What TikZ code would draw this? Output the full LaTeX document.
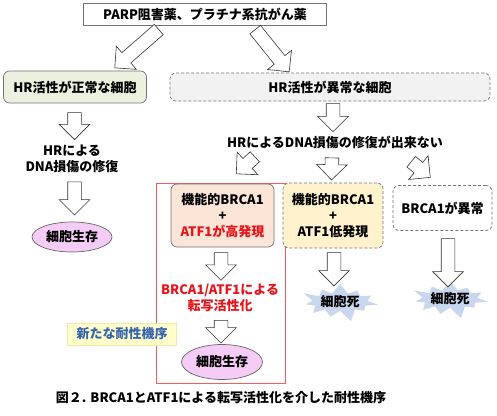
\documentclass[tikz,border=0pt]{standalone}
\usepackage{fontspec}
\setmainfont{Noto Sans CJK JP}
\usetikzlibrary{shapes.arrows,shapes.geometric,shapes.symbols,calc}
\definecolor{cellgreen}{HTML}{EBF1DE}
\definecolor{cellgray}{HTML}{F2F2F2}
\definecolor{cellpeach}{HTML}{FBE5D6}
\definecolor{cellyellow}{HTML}{FFF2CC}
\definecolor{survpink}{HTML}{F4CCF6}
\definecolor{deathblue}{HTML}{C9D7EE}
\definecolor{textred}{HTML}{E8141B}
\definecolor{noteblue}{HTML}{3563AE}
\definecolor{notefill}{HTML}{FFFFCC}
\definecolor{noteline}{HTML}{F5E7A8}
\tikzset{every node/.style={font=\bfseries\fontsize{13}{16}\selectfont, align=center, inner sep=0pt},
  cellbox/.style={draw=black!55, rounded corners=6pt, line width=0.7pt},
  dashbox/.style={cellbox, densely dashed},
  survival/.style={ellipse, draw=black!60, fill=survpink, line width=0.7pt},
  death/.style={starburst, fill=deathblue, starburst points=11, starburst point height=13pt, minimum width=78pt, minimum height=42pt},
  hollow/.style={single arrow, draw=black!80, fill=white, line width=0.6pt, sloped, allow upside down, inner xsep=0pt, inner ysep=6.5pt, minimum width=30pt, single arrow head extend=8.5pt}}
\newcommand\hollowarrow[2]{\path let \p1=#1, \p2=#2, \n1={veclen(\x2-\x1,\y2-\y1)} in (\p1) -- node[hollow, pos=0, anchor=tail, minimum height=\n1] {} (\p2);}

\begin{document}
\begin{tikzpicture}[x=1pt,y=-1pt]
  \useasboundingbox (0,0) rectangle (497,415);
  % top row
  \node[draw=black!55, line width=0.7pt, minimum width=243pt, minimum height=22pt] (drug) at (205,14) {PARP阻害薬、プラチナ系抗がん薬};
  \node[cellbox, fill=cellgreen, minimum width=143pt, minimum height=32pt] (normal) at (75,87) {HR活性が正常な細胞};
  \node[dashbox, fill=cellgray, minimum width=320pt, minimum height=28pt] (abnormal) at (330,87) {HR活性が異常な細胞};
  % left branch
  \node (repair) at (72,158.5) {HRによる\\DNA損傷の修復};
  \node[survival, minimum width=80pt, minimum height=30pt] (live1) at (72,237) {細胞生存};
  % right branch
  \node (norepair) at (335,142) {HRによるDNA損傷の修復が出来ない};
  \draw[red!65, line width=1pt] (156,183) rectangle (285,383);
  \node[cellbox, fill=cellpeach, minimum width=103pt, minimum height=63pt] (high) at (222.5,215.5) {機能的BRCA1\\+\\\textcolor{textred}{ATF1が高発現}};
  \node[text=textred] (transc) at (220,298) {BRCA1/ATF1による\\転写活性化};
  \node[survival, minimum width=81pt, minimum height=35pt] (live2) at (222,362) {細胞生存};
  \node[draw=noteline, fill=notefill, text=noteblue, minimum width=109pt, minimum height=22pt] (novel) at (122,334) {新たな耐性機序};
  \node[dashbox, fill=cellyellow, minimum width=100pt, minimum height=65pt] (low) at (333,215.5) {機能的BRCA1\\+\\ATF1低発現};
  \node[dashbox, minimum width=99pt, minimum height=45pt] (brca) at (442.5,208) {BRCA1が異常};
  \node[death] (dead1) at (340,302) {細胞死};
  \node[death] (dead2) at (450,299) {細胞死};
  \node (caption) at (221,398) {図２. BRCA1とATF1による転写活性化を介した耐性機序};
  % block arrows
  \hollowarrow{($(drug.south)+(-46,4)$)}{($(normal.north)+(40,-3)$)}
  \hollowarrow{($(drug.south)+(50,4)$)}{($(abnormal.north)+(-41,-1)$)}
  \hollowarrow{($(normal.south)+(-0.5,9)$)}{($(repair.north)+(2.5,-5)$)}
  \hollowarrow{($(repair.south)+(2.5,9)$)}{($(live1.north)+(2.5,-7)$)}
  \hollowarrow{($(abnormal.south)+(3,2)$)}{($(norepair.north)+(-2,-4)$)}
  \hollowarrow{($(norepair.south)+(-80,8)$)}{($(high.north)+(14,-10)$)}
  \hollowarrow{($(norepair.south)+(-3,9)$)}{($(low.north)+(-1.5,-3)$)}
  \hollowarrow{($(norepair.south)+(76,13)$)}{($(brca.north)+(-12.5,-8)$)}
  \hollowarrow{($(high.south)+(-1.5,5)$)}{($(transc.north)+(1,-4)$)}
  \hollowarrow{($(transc.south)+(1,8)$)}{($(live2.north)+(-1,-1.5)$)}
  \hollowarrow{($(low.south)+(1,4)$)}{($(dead1.north)+(-6,2)$)}
  \hollowarrow{($(brca.south)+(5.5,7.5)$)}{($(dead2.north)+(-2,6)$)}
\end{tikzpicture}
\end{document}
